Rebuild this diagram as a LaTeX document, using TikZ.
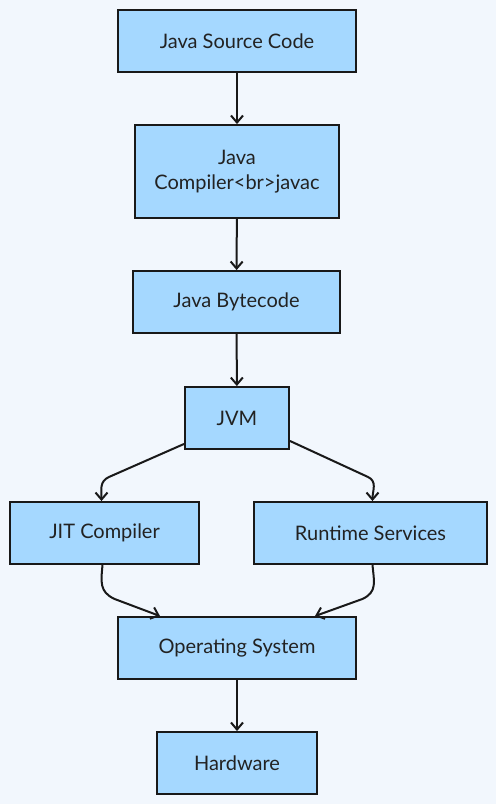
\documentclass[tikz,border=0pt]{standalone}
\usepackage{fontspec}
\setmainfont{Lato}
\usetikzlibrary{arrows.meta}
\definecolor{bg}{HTML}{F2F7FD}
\definecolor{boxfill}{HTML}{A5D8FF}
\definecolor{txt}{HTML}{222222}
\begin{document}
\begin{tikzpicture}[x=1pt,y=-1pt,
  box/.style={draw=black!90, line width=1.9pt, fill=boxfill, inner sep=0pt,
    font=\fontsize{20}{25}\selectfont, text=txt, align=center},
  arr/.style={draw=black!90, line width=2pt, line join=round, -{Straight Barb[length=7pt,width=12pt]}}]
\fill[bg] (0,0) rectangle (496,804);
\node[box, minimum width=238pt, minimum height=62pt] (src) at (237,41) {Java Source Code};
\node[box, minimum width=204pt, minimum height=93pt] (jc) at (237,171.5) {Java\\Compiler<br>javac};
\node[box, minimum width=207pt, minimum height=62pt] (bc) at (236.5,302) {Java Bytecode};
\node[box, minimum width=104pt, minimum height=62pt] (jvm) at (237,418) {JVM};
\node[box, minimum width=189pt, minimum height=62pt] (jit) at (104.5,533) {JIT Compiler};
\node[box, minimum width=233pt, minimum height=62pt] (rt) at (370.5,533) {Runtime Services};
\node[box, minimum width=238pt, minimum height=62pt] (os) at (237,648) {Operating System};
\node[box, minimum width=160pt, minimum height=62pt] (hw) at (237,763) {Hardware};
\draw[arr] (src) -- (jc);
\draw[arr] (jc) -- (bc);
\draw[arr] (bc) -- (jvm);
\draw[arr] ([yshift=6pt]jvm.south west) -- ++(-75,33) to[out=204,in=90,looseness=1.1] ([xshift=-3pt]jit.north);
\draw[arr] ([yshift=9pt]jvm.south east) -- ++(78,36) to[out=-25,in=90,looseness=1.1] ([xshift=2pt]rt.north);
\draw[arr] ([xshift=-2pt]jit.south) to[out=-95,in=155,looseness=1.2] ++(12,34) -- ([xshift=-77pt]os.north);
\draw[arr] ([xshift=2pt]rt.south) to[out=-85,in=25,looseness=1.2] ++(-10,34) -- ([xshift=78pt]os.north);
\draw[arr] (os) -- (hw);
\end{tikzpicture}
\end{document}
